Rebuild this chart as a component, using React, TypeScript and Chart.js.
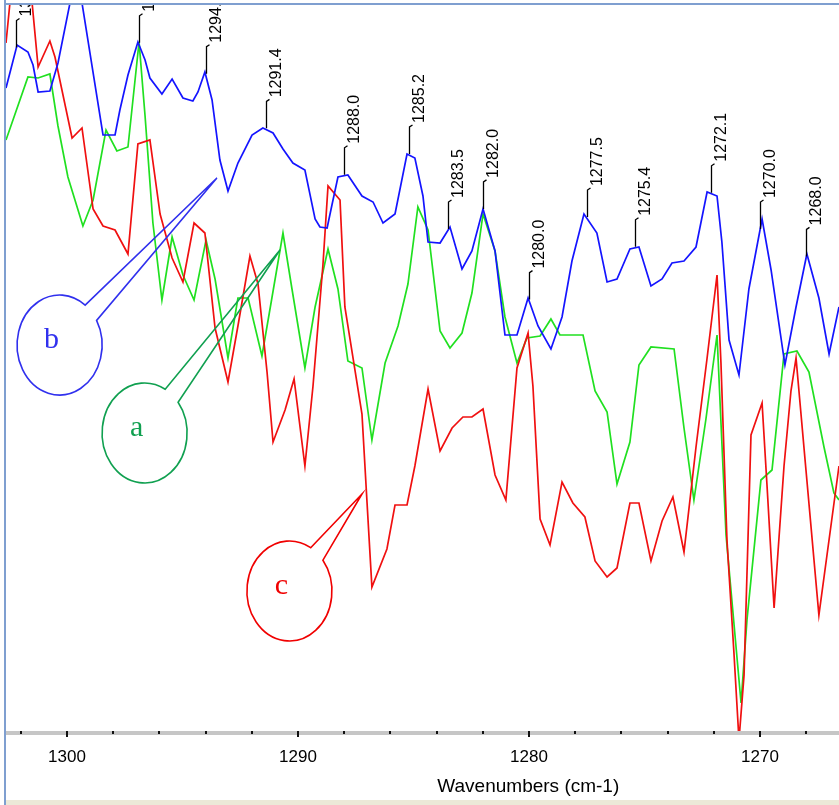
import React, { useEffect, useRef } from 'react';
import { Chart, registerables } from 'chart.js';

Chart.register(...registerables);

// ---- data (wavenumbers in cm-1, absorbance in mA.U.) ----
const blueWavenumbers = [
  1302.64, 1302.16, 1301.69, 1301.47, 1301.25, 1300.74, 1300.39, 1299.87, 1299.61, 1299.35,
  1298.44, 1297.92, 1297.71, 1297.36, 1296.93, 1296.62, 1296.41, 1295.89, 1295.45, 1294.98,
  1294.55, 1294.33, 1294.03, 1293.72, 1293.38, 1293.03, 1292.60, 1291.99, 1291.52, 1291.08,
  1290.65, 1290.22, 1289.70, 1289.26, 1289.05, 1288.74, 1288.53, 1288.27, 1287.84, 1287.23,
  1286.75, 1286.32, 1285.80, 1285.28, 1284.94, 1284.59, 1284.37, 1283.85, 1283.42, 1282.90,
  1282.47, 1281.99, 1281.47, 1281.04, 1280.52, 1280.04, 1279.61, 1279.05, 1278.57, 1278.14,
  1277.62, 1277.06, 1276.62, 1276.19, 1275.63, 1275.24, 1274.72, 1274.24, 1273.81, 1273.29,
  1272.77, 1272.29, 1271.86, 1271.65, 1271.34, 1270.91, 1270.48, 1269.91, 1269.52, 1268.92,
  1268.44, 1267.97, 1267.45, 1267.01, 1266.58,
];
const blueAbsorbance = [
  645, 688, 681, 668, 641, 642, 670, 730, 748, 730,
  598, 598, 623, 658, 691, 673, 655, 639, 654, 635,
  632, 641, 661, 633, 573, 542, 570, 598, 605, 600,
  584, 570, 563, 514, 506, 505, 528, 556, 558, 537,
  531, 510, 519, 579, 575, 537, 491, 490, 506, 464,
  482, 524, 482, 398, 398, 435, 407, 384, 416, 472,
  519, 500, 451, 454, 484, 486, 447, 454, 470, 472,
  486, 541, 537, 491, 393, 358, 444, 514, 463, 368,
  426, 479, 435, 379, 426,
];

const greenWavenumbers = [
  1302.64, 1301.69, 1301.25, 1300.74, 1300.39, 1299.96, 1299.31, 1298.87, 1298.31, 1297.84,
  1297.36, 1296.88, 1296.62, 1296.28, 1295.89, 1295.45, 1294.98, 1294.50, 1293.98, 1293.59,
  1293.03, 1292.60, 1292.16, 1291.56, 1291.13, 1290.65, 1290.26, 1289.70, 1289.26, 1288.70,
  1288.27, 1287.84, 1287.23, 1286.80, 1286.23, 1285.67, 1285.24, 1284.81, 1284.37, 1283.85,
  1283.42, 1282.90, 1282.47, 1281.99, 1281.47, 1281.04, 1280.52, 1280.09, 1279.52, 1279.05,
  1278.66, 1277.66, 1277.14, 1276.62, 1276.19, 1275.63, 1275.24, 1274.72, 1273.72, 1273.29,
  1272.86, 1272.34, 1271.86, 1271.47, 1270.82, 1270.56, 1269.96, 1269.48, 1268.96, 1268.40,
  1267.88, 1267.23, 1266.80, 1266.58,
];
const greenAbsorbance = [
  593, 656, 655, 659, 607, 556, 507, 533, 603, 582,
  586, 691, 617, 510, 433, 496, 458, 433, 493, 454,
  375, 435, 435, 377, 435, 500, 444, 365, 426, 484,
  444, 372, 365, 293, 370, 407, 449, 526, 503, 402,
  385, 400, 440, 519, 482, 416, 370, 395, 397, 414,
  398, 398, 342, 321, 249, 291, 368, 386, 384, 305,
  233, 314, 398, 198, 30, 114, 253, 263, 379, 382,
  361, 286, 240, 233,
];

const redWavenumbers = [
  1302.64, 1302.47, 1301.99, 1301.51, 1301.25, 1300.74, 1300.52, 1299.78, 1299.35, 1298.87,
  1298.44, 1297.92, 1297.36, 1296.93, 1296.41, 1295.97, 1295.45, 1294.98, 1294.50, 1294.03,
  1293.59, 1293.03, 1292.60, 1292.08, 1291.73, 1291.34, 1291.08, 1290.56, 1290.17, 1289.70,
  1289.35, 1288.92, 1288.70, 1288.18, 1287.97, 1287.23, 1287.01, 1286.80, 1286.15, 1285.80,
  1285.28, 1284.94, 1284.37, 1283.85, 1283.33, 1282.86, 1282.47, 1281.99, 1281.47, 1281.00,
  1280.52, 1280.04, 1279.83, 1279.52, 1279.09, 1278.57, 1278.10, 1277.58, 1277.14, 1276.62,
  1276.19, 1275.63, 1275.24, 1274.72, 1274.24, 1273.77, 1273.29, 1272.77, 1272.29, 1271.86,
  1271.69, 1271.43, 1271.13, 1270.91, 1270.69, 1270.39, 1269.91, 1269.70, 1269.39, 1268.96,
  1268.66, 1268.44, 1268.01, 1267.45, 1266.93, 1266.58,
];
const redAbsorbance = [
  690, 730, 763, 730, 666, 692, 676, 595, 605, 524,
  507, 503, 479, 589, 593, 519, 475, 451, 510, 500,
  405, 351, 407, 477, 449, 361, 291, 323, 354, 267,
  347, 468, 547, 533, 426, 319, 230, 146, 184, 228,
  228, 267, 344, 282, 305, 316, 316, 324, 258, 233,
  365, 400, 347, 214, 188, 251, 230, 216, 172, 156,
  165, 230, 230, 172, 212, 236, 181, 286, 375, 458,
  370, 193, 81, -7, 58, 298, 330, 249, 125, 267,
  342, 375, 263, 118, 207, 267,
];

// peak labels on the blue trace
const peakPositions = [
  1302.2, 1296.9, 1294.0, 1291.4, 1288.0, 1285.2, 1283.5, 1282.0, 1280.0,
  1277.5, 1275.4, 1272.1, 1270.0, 1268.0,
];
const peakLabels = [
  '1302.2', '1296.9', '1294.0', '1291.4', '1288.0', '1285.2', '1283.5', '1282.0', '1280.0',
  '1277.5', '1275.4', '1272.1', '1270.0', '1268.0',
];

// callout balloons (position in data units)
const calloutLetters = ['b', 'a', 'c'];
const calloutColors = ['#3030ee', '#10a050', '#f00000'];
const calloutCenterWn = [1300.32, 1296.64, 1290.37];
const calloutCenterAbs = [388, 300, 142];
const calloutTipWn = [1293.51, 1290.78, 1287.23];
const calloutTipAbs = [555, 483, 239];
const calloutAngleA = [-53, -61, -60];
const calloutAngleB = [-29.5, -38, -38];

const X_MIN = 1266.58;
const X_MAX = 1302.64;
const Y_MIN = 0;
const Y_MAX = 728;
const AXIS_TITLE = 'Wavenumbers (cm-1)';

const SANS = '"Liberation Sans", Arial, sans-serif';
const SERIF = '"Liberation Serif", "Times New Roman", serif';

function interpAt(xs: number[], ys: number[], v: number): number {
  for (let i = 0; i < xs.length - 1; i++) {
    const a = xs[i];
    const b = xs[i + 1];
    if ((a >= v && v >= b) || (a <= v && v <= b)) {
      const t = (v - a) / (b - a || 1);
      return ys[i] + (ys[i + 1] - ys[i]) * t;
    }
  }
  return ys[ys.length - 1];
}

const decorPlugin = {
  id: 'decor',
  beforeDraw(chart: any) {
    const { ctx, width, height } = chart;
    ctx.save();
    ctx.fillStyle = '#ffffff';
    ctx.fillRect(0, 0, width, height);
    ctx.restore();
  },
  afterDatasetsDraw(chart: any) {
    const { ctx, chartArea: ca } = chart;
    const xs = chart.scales.x;
    const ys = chart.scales.y;

    // peak labels
    ctx.save();
    ctx.beginPath();
    ctx.rect(ca.left, ca.top, ca.right - ca.left, ca.bottom - ca.top);
    ctx.clip();
    ctx.strokeStyle = '#000';
    ctx.fillStyle = '#000';
    ctx.lineWidth = 1.3;
    ctx.font = `16px ${SANS}`;
    peakPositions.forEach((p, i) => {
      const x = Math.round(xs.getPixelForValue(p)) + 0.5;
      const v = interpAt(blueWavenumbers, blueAbsorbance, p);
      const y = ys.getPixelForValue(v);
      ctx.beginPath();
      ctx.moveTo(x, y - 1);
      ctx.lineTo(x, y - 28);
      ctx.lineTo(x + 3, y - 30);
      ctx.stroke();
      ctx.save();
      ctx.translate(x + 14.5, y - 32);
      ctx.rotate(-Math.PI / 2);
      ctx.textAlign = 'left';
      ctx.textBaseline = 'alphabetic';
      ctx.fillText(peakLabels[i], 0, 0);
      ctx.restore();
    });
    ctx.restore();

    // callouts
    const rx = 42.5;
    const ry = 50;
    calloutLetters.forEach((letter, i) => {
      const cx = xs.getPixelForValue(calloutCenterWn[i]);
      const cy = ys.getPixelForValue(calloutCenterAbs[i]);
      const tx = xs.getPixelForValue(calloutTipWn[i]);
      const ty = ys.getPixelForValue(calloutTipAbs[i]);
      const a1 = (calloutAngleA[i] * Math.PI) / 180;
      const a2 = (calloutAngleB[i] * Math.PI) / 180;
      ctx.save();
      ctx.strokeStyle = calloutColors[i];
      ctx.lineWidth = 1.6;
      ctx.beginPath();
      ctx.ellipse(cx, cy, rx, ry, 0, a2, a1 + Math.PI * 2, false);
      ctx.lineTo(tx, ty);
      ctx.closePath();
      ctx.stroke();
      ctx.fillStyle = calloutColors[i];
      ctx.font = `30px ${SERIF}`;
      ctx.textAlign = 'center';
      ctx.textBaseline = 'alphabetic';
      ctx.fillText(letter, cx - 8, cy + 3);
      ctx.restore();
    });
  },
  afterDraw(chart: any) {
    const { ctx, chartArea: ca, width, height } = chart;
    const xs = chart.scales.x;
    ctx.save();
    // axis bar
    ctx.fillStyle = '#c6c6c6';
    ctx.fillRect(ca.left - 1, ca.bottom - 2, width - ca.left + 1, 4);
    // tick marks
    ctx.fillStyle = '#111';
    xs.ticks.forEach((t: any) => {
      const px = Math.round(xs.getPixelForValue(t.value));
      const major = Math.round(t.value) % 10 === 0;
      ctx.fillRect(px - 1, ca.bottom - 2, 2, major ? 6 : 3);
    });
    // axis title
    ctx.fillStyle = '#000';
    ctx.font = `19px ${SANS}`;
    ctx.textAlign = 'center';
    ctx.textBaseline = 'middle';
    ctx.fillText(AXIS_TITLE, ca.left + (ca.right - ca.left) * 0.627, ca.bottom + 54);
    // bottom strip
    ctx.fillStyle = '#ece9d8';
    ctx.fillRect(5, height - 5, width - 5, 5);
    // frame
    ctx.strokeStyle = '#7f9fd0';
    ctx.lineWidth = 2;
    ctx.beginPath();
    ctx.moveTo(5, 0);
    ctx.lineTo(5, height);
    ctx.moveTo(5, 4);
    ctx.lineTo(width, 4);
    ctx.stroke();
    ctx.restore();
  },
};

export default function App() {
  const canvasRef = useRef<HTMLCanvasElement | null>(null);

  useEffect(() => {
    document.body.style.margin = '0';
    const canvas = canvasRef.current;
    if (!canvas) return;
    const mk = (xs: number[], ys: number[]) => xs.map((x, i) => ({ x, y: ys[i] }));
    const chart = new Chart(canvas, {
      type: 'line',
      data: {
        datasets: [
          {
            label: 'b',
            data: mk(blueWavenumbers, blueAbsorbance),
            borderColor: '#1414ff',
            borderWidth: 1.7,
            pointRadius: 0,
            tension: 0,
            fill: false,
          },
          {
            label: 'c',
            data: mk(redWavenumbers, redAbsorbance),
            borderColor: '#f01010',
            borderWidth: 1.7,
            pointRadius: 0,
            tension: 0,
            fill: false,
          },
          {
            label: 'a',
            data: mk(greenWavenumbers, greenAbsorbance),
            borderColor: '#20e020',
            borderWidth: 1.7,
            pointRadius: 0,
            tension: 0,
            fill: false,
          },
        ],
      },
      options: {
        responsive: false,
        animation: false,
        events: [],
        layout: { padding: { left: 6, top: 5, right: 0, bottom: 0 } },
        plugins: {
          legend: { display: false },
          tooltip: { enabled: false },
          title: { display: false },
        },
        scales: {
          x: {
            type: 'linear',
            reverse: true,
            min: X_MIN,
            max: X_MAX,
            afterFit: (s: any) => {
              s.height = 72;
            },
            grid: { display: false, drawTicks: false },
            border: { display: false },
            ticks: {
              stepSize: 2,
              autoSkip: false,
              maxRotation: 0,
              minRotation: 0,
              includeBounds: false,
              padding: 14,
              color: '#000',
              font: { family: SANS, size: 17 },
              callback: (v: any) => (Math.round(Number(v)) % 10 === 0 ? String(Math.round(Number(v))) : ''),
            },
          },
          y: { type: 'linear', display: false, min: Y_MIN, max: Y_MAX },
        },
      },
      plugins: [decorPlugin],
    });
    return () => chart.destroy();
  }, []);

  return (
    <div style={{ width: 839, height: 805 }}>
      <canvas ref={canvasRef} width={839} height={805} style={{ display: 'block' }} />
    </div>
  );
}
